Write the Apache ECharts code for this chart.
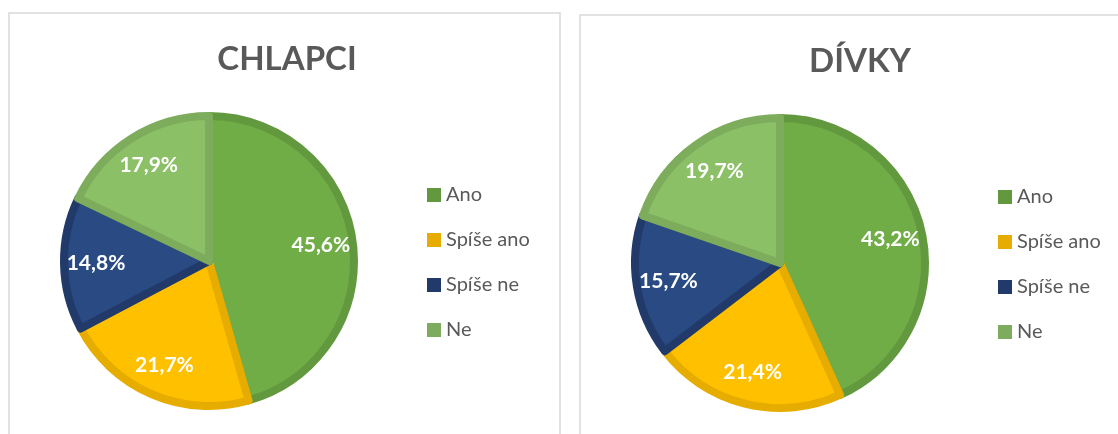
<!DOCTYPE html>
<html>
<head>
<meta charset="utf-8">
<script src="https://cdn.jsdelivr.net/npm/echarts@6/dist/echarts.min.js"></script>
<style>
  html, body { margin: 0; padding: 0; background: #fff; }
  #chart { width: 1118px; height: 434px; }
</style>
</head>
<body>
<div id="chart"></div>
<script>
var categories = ["Ano", "Spíše ano", "Spíše ne", "Ne"];
var chlapciValues = [45.6, 21.7, 14.8, 17.9];
var divkyValues = [43.2, 21.4, 15.7, 19.7];
var titles = ["CHLAPCI", "DÍVKY"];

var fillColors = ["#70AD47", "#FFC000", "#294A82", "#8BC066"];
var edgeColors = ["#63993E", "#E6AD00", "#213A69", "#7DAC5C"];

var font = "Lato, 'Open Sans', sans-serif";

function toData(values) {
  return categories.map(function (name, i) {
    return {
      name: name,
      value: values[i],
      itemStyle: { color: fillColors[i], borderColor: edgeColors[i] }
    };
  });
}

function fmt(p) {
  return p.value.toFixed(1).replace(".", ",") + "%";
}

function pieSeries(values, center) {
  return [
    {
      type: "pie",
      center: center,
      radius: [0, 145],
      startAngle: 90,
      clockwise: true,
      silent: true,
      data: toData(values),
      itemStyle: { borderWidth: 8 },
      label: { show: false },
      labelLine: { show: false },
      emphasis: { disabled: true }
    },
    {
      // transparent ring only used to place the labels further out
      type: "pie",
      center: center,
      radius: [70, 150],
      startAngle: 90,
      clockwise: true,
      silent: true,
      data: categories.map(function (name, i) {
        return { name: name, value: values[i] };
      }),
      itemStyle: { color: "rgba(0,0,0,0)" },
      label: {
        show: true,
        position: "inside",
        formatter: fmt,
        color: "#FFFFFF",
        fontFamily: font,
        fontWeight: "bold",
        fontSize: 21
      },
      labelLine: { show: false },
      emphasis: { disabled: true }
    }
  ];
}

function legendData() {
  return categories.map(function (name, i) {
    return { name: name, itemStyle: { color: edgeColors[i], borderWidth: 0 } };
  });
}

var legendText = { color: "#595959", fontSize: 20, fontFamily: font, lineHeight: 20 };

var chart = echarts.init(document.getElementById("chart"));
chart.setOption({
  animation: false,
  color: fillColors,
  graphic: [
    {
      type: "rect",
      shape: { x: 9, y: 13, width: 551, height: 440 },
      style: { fill: "none", stroke: "#D9D9D9", lineWidth: 1.5 }
    },
    {
      type: "rect",
      shape: { x: 580, y: 15, width: 560, height: 440 },
      style: { fill: "none", stroke: "#D9D9D9", lineWidth: 1.5 }
    }
  ],
  title: [
    {
      text: titles[0],
      left: 282,
      top: 38,
      textAlign: "center",
      textStyle: { color: "#595959", fontSize: 33, fontWeight: "bold", fontFamily: font }
    },
    {
      text: titles[1],
      left: 855,
      top: 40,
      textAlign: "center",
      textStyle: { color: "#595959", fontSize: 33, fontWeight: "bold", fontFamily: font }
    }
  ],
  legend: [
    {
      orient: "vertical",
      left: 422,
      top: 180,
      itemWidth: 14,
      itemHeight: 14,
      itemGap: 25,
      icon: "rect",
      selectedMode: false,
      data: legendData(),
      textStyle: legendText
    },
    {
      orient: "vertical",
      left: 993,
      top: 182,
      itemWidth: 14,
      itemHeight: 14,
      itemGap: 25,
      icon: "rect",
      selectedMode: false,
      data: legendData(),
      textStyle: legendText
    }
  ],
  series: pieSeries(chlapciValues, [209, 261]).concat(pieSeries(divkyValues, [780, 263]))
});
</script>
</body>
</html>
